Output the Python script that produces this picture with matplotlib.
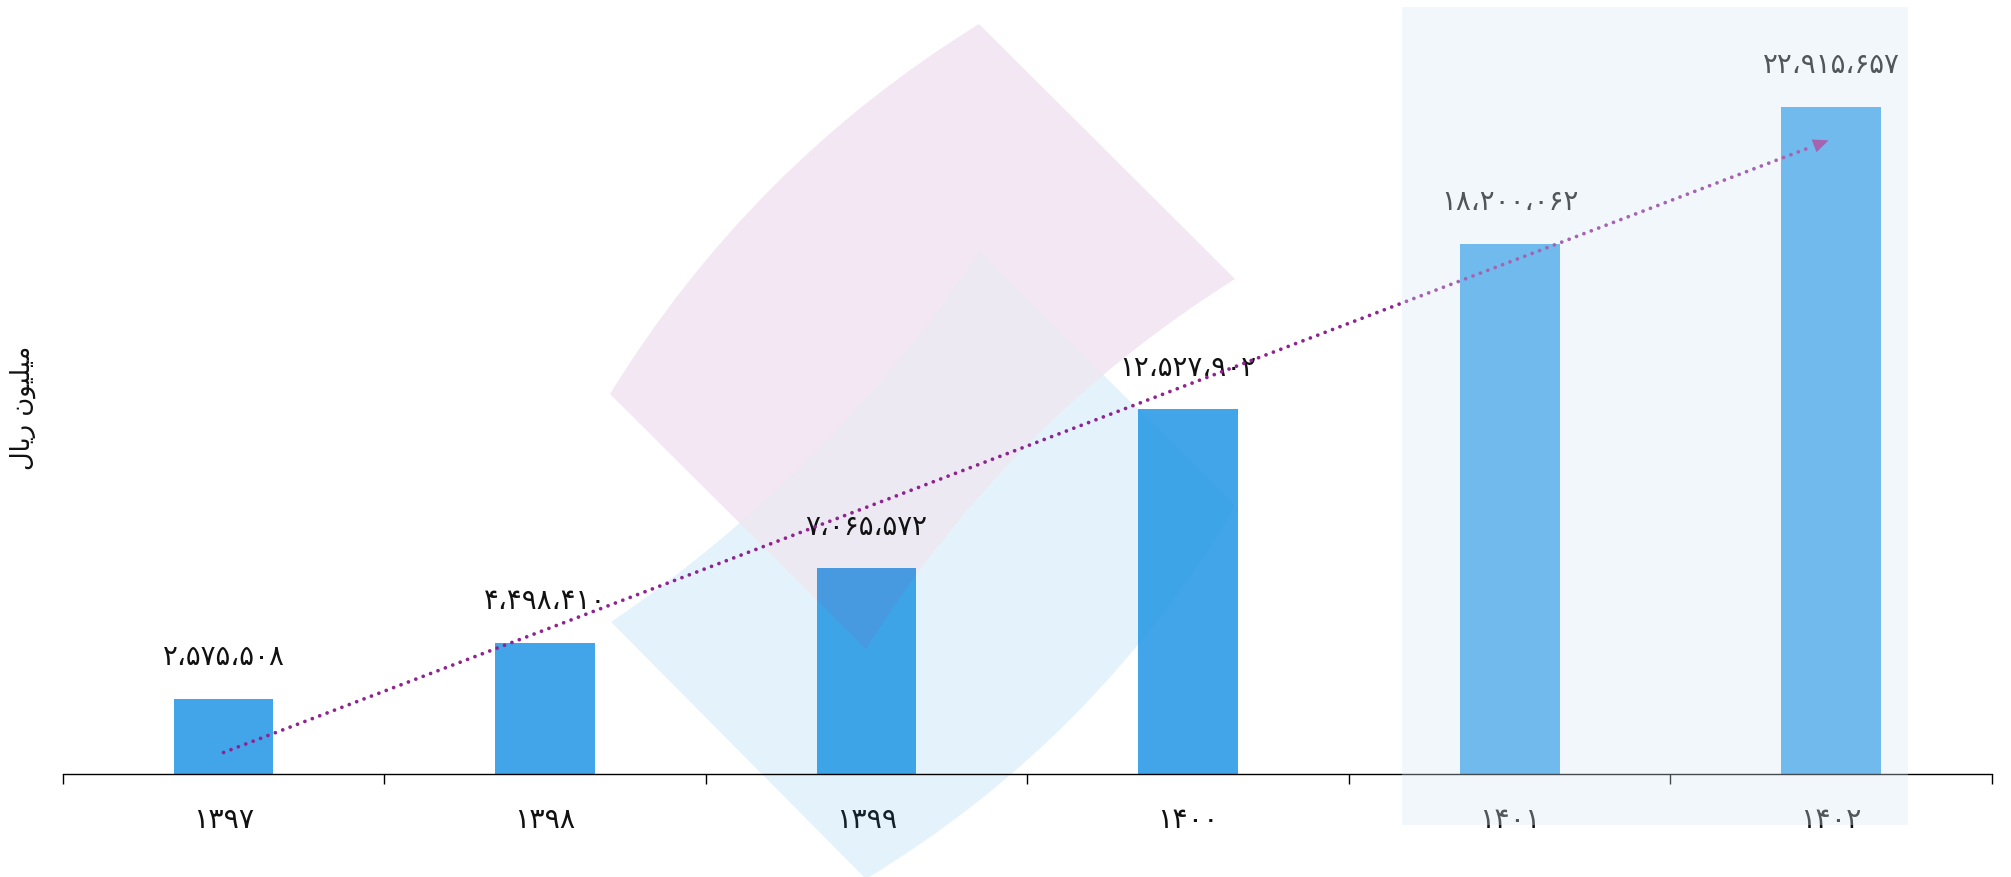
import numpy as np
import matplotlib
matplotlib.use("Agg")
import matplotlib.pyplot as plt
from matplotlib.path import Path
from matplotlib.patches import PathPatch, Rectangle
from matplotlib.transforms import Affine2D

# data
years = ['۱۳۹۷', '۱۳۹۸', '۱۳۹۹', '۱۴۰۰', '۱۴۰۱', '۱۴۰۲']
values = [2575508, 4498410, 7065572, 12527902, 18200062, 22915657]
trend_values = [740000, 21800000]   # start / end of the dotted trend arrow
highlight = [4, 5]                  # highlighted categories
ylabel = 'میلیون ریال'

plt.rcParams['font.family'] = ['DejaVu Sans']

W, H = 2011, 878
fig = plt.figure(figsize=(W / 100, H / 100), dpi=100)
ax = fig.add_axes([62.8 / W, 103 / H, (1992 - 62.8) / W, 775 / H])
ax.patch.set_alpha(0)

FA = str.maketrans('0123456789,', '۰۱۲۳۴۵۶۷۸۹،')


def fa(n):
    return '{:,}'.format(n).translate(FA)


def shape_fa(s):
    # contextual forms for the y label (matplotlib has no arabic shaping)
    forms = {
        'م': ('\uFEE1', '\uFEE3', '\uFEE4', '\uFEE2'),
        'ی': ('\uFBFC', '\uFBFE', '\uFBFF', '\uFBFD'),
        'ل': ('\uFEDD', '\uFEDF', '\uFEE0', '\uFEDE'),
        'و': ('\uFEED', None, None, '\uFEEE'),
        'ن': ('\uFEE5', '\uFEE7', '\uFEE8', '\uFEE6'),
        'ر': ('\uFEAD', None, None, '\uFEAE'),
        'ا': ('\uFE8D', None, None, '\uFE8E'),
    }
    out = []
    for i, ch in enumerate(s):
        if ch not in forms:
            out.append(ch)
            continue
        prev = s[i - 1] if i > 0 else ' '
        nxt = s[i + 1] if i + 1 < len(s) else ' '
        jp = prev in forms and forms[prev][1] is not None
        jn = nxt in forms and forms[ch][1] is not None
        f = forms[ch]
        if jp and jn:
            out.append(f[2])
        elif jp:
            out.append(f[3])
        elif jn:
            out.append(f[1])
        else:
            out.append(f[0])
    return ''.join(out[::-1])


x = np.arange(len(years))
ymax = 26.62e6
ax.set_xlim(-0.5, 5.5)
ax.set_ylim(0, ymax)

ax.bar(x, values, width=0.31, color='#42a5ea', zorder=1)

for xi, v in zip(x, values):
    ax.annotate(fa(v), (xi, v), xytext=(0, 25), textcoords='offset points',
                ha='center', va='baseline', fontsize=20, color='#111111', zorder=3)

# dotted trend arrow
x0, x1 = x[0], x[-1]
y0, y1 = trend_values
ax.plot([x0, x0 + (x1 - x0) * 0.985], [y0, y0 + (y1 - y0) * 0.985], color='#8e2490',
        lw=2.7, ls=(0, (0.01, 2.1)), dash_capstyle='round', zorder=4)
ax.annotate('', xy=(x1, y1), xytext=(x0 + (x1 - x0) * 0.98, y0 + (y1 - y0) * 0.98),
            arrowprops=dict(arrowstyle='-|>,head_length=0.8,head_width=0.35',
                            color='#8e2490', lw=0, mutation_scale=14), zorder=4)

# watermark logo (figure pixel coords, y down)
px = Affine2D().scale(1 / W, -1 / H).translate(0, 1) + fig.transFigure


def bent(top, right, bottom, left, b1, b2):
    d = np.array([0.7071, 0.7071])
    top, right, bottom, left = map(np.array, (top, right, bottom, left))
    c1 = (left + top) / 2 + b1 * d
    c2 = (right + bottom) / 2 + b2 * d
    verts = [left, c1, top, right, c2, bottom, left]
    codes = [Path.MOVETO, Path.CURVE3, Path.CURVE3, Path.LINETO,
             Path.CURVE3, Path.CURVE3, Path.CLOSEPOLY]
    return Path(verts, codes)


def outside(p):
    frame = Path([(-10, -10), (-10, H + 10), (W + 10, H + 10), (W + 10, -10), (-10, -10)],
                 [Path.MOVETO, Path.LINETO, Path.LINETO, Path.LINETO, Path.CLOSEPOLY])
    return Path.make_compound_path(frame, p)


pink = bent((979, 25), (1235, 280), (866, 650), (610, 395), -62, -60)
blue = bent((980, 253), (1235, 507), (866, 880), (611, 623), 50, 66)

wm = [(pink, outside(blue), (150, 60, 160), 0.12),
      (blue, outside(pink), (40, 160, 225), 0.12),
      (blue, pink, (109, 86, 163), 0.13)]
for shape, clip, col, a in wm:
    p = PathPatch(shape, transform=px, facecolor=np.array(col) / 255, alpha=a,
                  lw=0, zorder=2)
    ax.add_patch(p)
    p.set_clip_path(clip, px)
    p.set_clip_box(None)

# axis
for s in ['left', 'right', 'top']:
    ax.spines[s].set_visible(False)
ax.spines['bottom'].set_linewidth(1.0)
ax.spines['bottom'].set_color('black')
ax.set_yticks([])
ax.set_xticks(np.arange(-0.5, 6, 1))
ax.set_xticklabels([])
ax.tick_params(axis='x', which='major', length=7, width=1, color='black')
ax.set_xticks(x, minor=True)
ax.set_xticklabels(years, minor=True, fontsize=20.5, color='#111111')
ax.tick_params(axis='x', which='minor', length=0, pad=22)

# highlight band over the last two years
hx0 = highlight[0] - 0.334
hx1 = highlight[-1] + 0.24
ax.add_patch(Rectangle((hx0, -1.75e6), hx1 - hx0, 26.35e6 + 1.75e6,
                       facecolor=(214 / 255, 233 / 255, 245 / 255), alpha=0.32,
                       lw=0, clip_on=False, zorder=10))

fig.text(23 / W, 1 - 408 / H, shape_fa(ylabel), rotation=90, ha='center', va='center',
         fontsize=18.5, color='#111111')

fig.savefig('out.png', dpi=100)
